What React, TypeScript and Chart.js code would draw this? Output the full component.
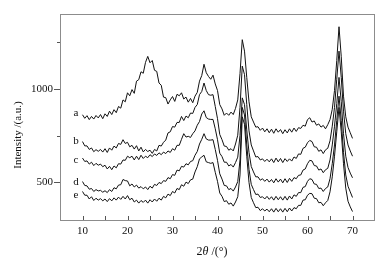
import React, { useEffect, useRef } from "react";
import { Chart, registerables } from "chart.js";

Chart.register(...registerables);

// 2θ grid: 10° .. 70° in 0.5° steps
const X_START = 10;
const X_STEP = 0.5;

const seriesA = [
  861, 842, 856, 835, 852, 838, 857, 844, 862, 840,
  866, 852, 880, 862, 888, 872, 905, 896, 940, 930,
  978, 962, 995, 975, 1040, 1048, 1090, 1082, 1140, 1172,
  1138, 1150, 1098, 1092, 1030, 1018, 955, 952, 918, 940,
  958, 932, 970, 962, 978, 945, 955, 928, 948, 925,
  960, 980, 1040, 1070, 1130, 1085, 1065, 1050, 1072, 1025,
  990, 915, 892, 858, 870, 858, 875, 862, 895, 940,
  1080, 1261, 1200, 1060, 930, 850, 822, 795, 797, 778,
  790, 770, 786, 765, 784, 762, 786, 768, 782, 760,
  781, 764, 786, 768, 790, 772, 792, 788, 805, 800,
  835, 845, 822, 828, 805, 812, 795, 804, 786, 808,
  835, 890, 990, 1150, 1330, 1170, 960, 850, 795, 765,
  735,
];

const seriesB = [
  718, 695, 695, 676, 684, 664, 675, 666, 676, 662,
  680, 660, 684, 672, 694, 684, 708, 703, 728, 708,
  714, 690, 698, 678, 696, 668, 688, 663, 676, 665,
  672, 655, 676, 668, 698, 694, 714, 726, 764, 770,
  798, 795, 820, 820, 852, 830, 854, 845, 870, 868,
  900, 915, 968, 985, 1030, 990, 968, 965, 968, 905,
  840, 756, 728, 694, 692, 672, 680, 668, 705, 752,
  900, 1120, 1075, 915, 775, 700, 668, 636, 638, 620,
  626, 612, 624, 610, 626, 606, 630, 610, 628, 606,
  627, 612, 626, 614, 636, 628, 652, 650, 682, 688,
  712, 724, 718, 690, 688, 666, 674, 654, 674, 682,
  722, 800, 900, 1050, 1200, 1060, 880, 760, 700, 668,
  640,
];

const seriesC = [
  630, 612, 615, 598, 608, 590, 602, 592, 598, 584,
  592, 572, 586, 568, 588, 578, 600, 598, 620, 618,
  640, 632, 640, 620, 640, 622, 645, 628, 640, 632,
  648, 638, 652, 644, 658, 648, 662, 654, 668, 660,
  680, 672, 698, 698, 730, 760, 742, 746, 740, 760,
  775, 805, 825, 865, 882, 846, 838, 836, 836, 786,
  728, 656, 638, 608, 608, 588, 596, 582, 606, 635,
  750, 951, 915, 780, 660, 585, 556, 530, 530, 512,
  520, 506, 518, 502, 516, 498, 520, 502, 518, 498,
  520, 500, 522, 506, 526, 520, 538, 540, 566, 572,
  600, 618, 615, 590, 588, 566, 572, 552, 568, 575,
  620, 700, 800, 920, 1060, 930, 760, 640, 580, 550,
  525,
];

const seriesD = [
  505, 484, 482, 464, 468, 452, 462, 455, 458, 448,
  456, 446, 462, 452, 472, 466, 486, 488, 516, 510,
  508, 482, 492, 476, 486, 470, 478, 466, 476, 462,
  480, 470, 490, 484, 500, 494, 510, 506, 526, 520,
  542, 538, 566, 562, 586, 582, 600, 594, 612, 616,
  645, 665, 705, 730, 760, 732, 726, 726, 728, 676,
  618, 546, 518, 484, 482, 462, 468, 454, 476, 505,
  620, 900, 860, 700, 570, 490, 462, 436, 438, 420,
  424, 412, 426, 410, 424, 406, 426, 408, 424, 406,
  426, 406, 428, 412, 434, 426, 446, 446, 474, 478,
  506, 520, 516, 492, 490, 468, 470, 452, 468, 476,
  520, 600, 700, 830, 960, 830, 660, 540, 480, 450,
  420,
];

const seriesE = [
  452, 432, 432, 412, 424, 404, 416, 406, 414, 402,
  412, 398, 414, 402, 418, 406, 422, 410, 426, 412,
  430, 408, 416, 396, 406, 390, 404, 394, 406, 390,
  408, 396, 412, 400, 416, 406, 426, 418, 438, 430,
  452, 444, 468, 462, 488, 480, 502, 494, 514, 518,
  556, 584, 626, 636, 645, 610, 606, 602, 606, 554,
  506, 444, 426, 398, 403, 384, 391, 374, 396, 424,
  540, 850, 810, 640, 500, 420, 392, 366, 368, 350,
  360, 348, 358, 344, 360, 342, 362, 344, 360, 342,
  362, 344, 364, 348, 366, 360, 378, 378, 406, 408,
  432, 442, 440, 416, 414, 392, 394, 376, 392, 404,
  450, 530, 640, 770, 900, 770, 600, 470, 400, 370,
  345,
];

const curveNames = ["a", "b", "c", "d", "e"];
const curveLabelX = 8.55;
const curveLabelY = [872, 718, 618, 502, 433];

const xTickLabels = [10, 20, 30, 40, 50, 60, 70];
const xTickMarks = [10, 15, 20, 25, 30, 35, 40, 45, 50, 55, 60, 65, 70];
const yTickLabels = [500, 1000];
const yMinorTicks = [750, 1250];

const X_MIN = 5;
const X_MAX = 75;
const Y_MIN = 300;
const Y_MAX = 1400;

const SERIF = "'Liberation Serif', 'Times New Roman', 'DejaVu Serif', serif";

const allSeries = [seriesA, seriesB, seriesC, seriesD, seriesE];

const decorPlugin = {
  id: "decor",
  afterDraw(chart: any) {
    const { ctx, chartArea, scales } = chart;
    const { left, right, top, bottom } = chartArea;
    const xs = scales.x;
    const ys = scales.y;
    ctx.save();
    // frame
    ctx.strokeStyle = "#8c8c8c";
    ctx.lineWidth = 1;
    ctx.strokeRect(Math.round(left) + 0.5, Math.round(top) + 0.5, Math.round(right - left) - 1, Math.round(bottom - top));
    // ticks
    ctx.strokeStyle = "#555";
    ctx.beginPath();
    for (const v of yTickLabels) {
      const y = Math.round(ys.getPixelForValue(v)) + 0.5;
      ctx.moveTo(left - 6, y);
      ctx.lineTo(left, y);
    }
    for (const v of yMinorTicks) {
      const y = Math.round(ys.getPixelForValue(v)) + 0.5;
      ctx.moveTo(left - 3, y);
      ctx.lineTo(left, y);
    }
    for (const v of xTickMarks) {
      const x = Math.round(xs.getPixelForValue(v)) + 0.5;
      ctx.moveTo(x, bottom);
      ctx.lineTo(x, bottom - 4);
    }
    ctx.stroke();
    // curve labels
    ctx.fillStyle = "#111";
    ctx.font = `11px ${SERIF}`;
    ctx.textAlign = "center";
    ctx.textBaseline = "middle";
    curveNames.forEach((n, i) => {
      ctx.fillText(n, xs.getPixelForValue(curveLabelX), ys.getPixelForValue(curveLabelY[i]));
    });
    // y title
    ctx.save();
    ctx.translate(18, 135);
    ctx.rotate(-Math.PI / 2);
    ctx.font = `11px ${SERIF}`;
    ctx.textAlign = "center";
    ctx.textBaseline = "middle";
    ctx.fillText("Intensity /(a.u.)", 0, 0);
    ctx.restore();
    // x title: 2θ /(°)
    const parts = [
      { t: "2", f: `12px ${SERIF}` },
      { t: "θ", f: `italic 12px ${SERIF}` },
      { t: " /(°)", f: `12px ${SERIF}` },
    ];
    let total = 0;
    for (const p of parts) {
      ctx.font = p.f;
      total += ctx.measureText(p.t).width;
    }
    let cx = 212 - total / 2;
    ctx.textAlign = "left";
    ctx.textBaseline = "middle";
    for (const p of parts) {
      ctx.font = p.f;
      ctx.fillText(p.t, cx, 252);
      cx += ctx.measureText(p.t).width;
    }
    ctx.restore();
  },
};

export default function App() {
  const canvasRef = useRef<HTMLCanvasElement | null>(null);

  useEffect(() => {
    if (!canvasRef.current) return;
    const datasets = allSeries.map((s) => ({
      data: s.map((y, i) => ({ x: X_START + i * X_STEP, y })),
      borderColor: "#111",
      borderWidth: 1,
      pointRadius: 0,
      tension: 0,
      fill: false,
    }));
    const chart = new Chart(canvasRef.current, {
      type: "line",
      data: { datasets },
      options: {
        animation: false,
        responsive: false,
        devicePixelRatio: 1,
        layout: { padding: { top: 12, right: 16, left: 0, bottom: 0 } },
        plugins: { legend: { display: false }, tooltip: { enabled: false } },
        scales: {
          x: {
            type: "linear",
            min: X_MIN,
            max: X_MAX,
            grid: { display: false, drawTicks: false },
            border: { display: false },
            afterBuildTicks: (scale: any) => {
              scale.ticks = xTickLabels.map((v) => ({ value: v }));
            },
            afterFit: (scale: any) => {
              scale.height = 42;
            },
            ticks: {
              padding: 5,
              color: "#111",
              font: { family: SERIF, size: 11 },
              maxRotation: 0,
              autoSkip: false,
              callback: (v: any) => String(v),
            },
          },
          y: {
            type: "linear",
            min: Y_MIN,
            max: Y_MAX,
            grid: { display: false, drawTicks: false },
            border: { display: false },
            afterBuildTicks: (scale: any) => {
              scale.ticks = yTickLabels.map((v) => ({ value: v }));
            },
            afterFit: (scale: any) => {
              scale.width = 60;
            },
            ticks: {
              padding: 7,
              color: "#111",
              font: { family: SERIF, size: 11 },
              autoSkip: false,
              callback: (v: any) => String(v),
            },
          },
        },
      },
      plugins: [decorPlugin],
    });
    return () => chart.destroy();
  }, []);

  return (
    <div style={{ position: "fixed", left: 0, top: 0, width: 391, height: 262, background: "#fff" }}>
      <canvas ref={canvasRef} width={391} height={262} />
    </div>
  );
}
